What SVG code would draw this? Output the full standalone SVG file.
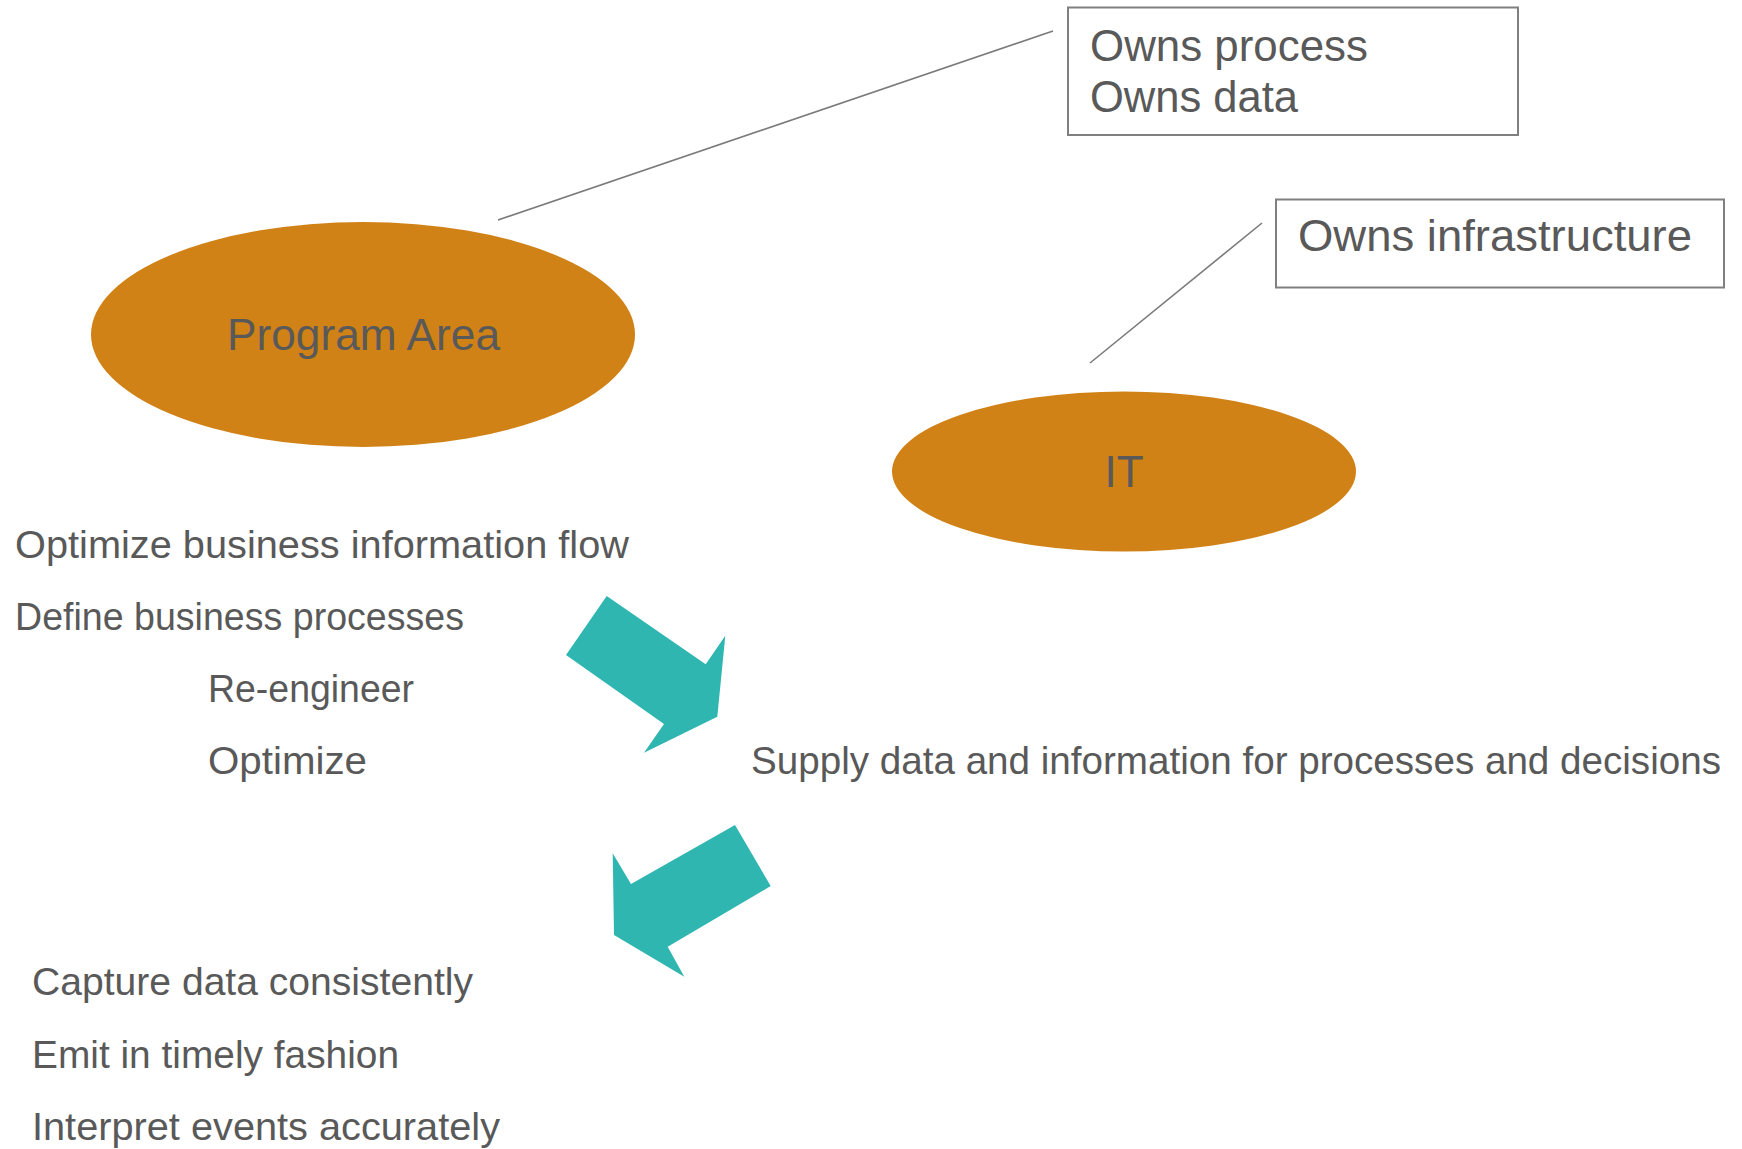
<svg xmlns="http://www.w3.org/2000/svg" width="1742" height="1149" viewBox="0 0 1742 1149">
<style>
  .t { font-family: "Liberation Sans", Arial, sans-serif; fill: #595959; }
  .big { font-size: 44px; }
  .lst { font-size: 39px; }
  .ell { fill: #D08217; }
  .box { fill: #ffffff; stroke: #808080; stroke-width: 2; }
  .con { stroke: #7a7a7a; stroke-width: 1.6; fill: none; }
  .arr { fill: #2FB6B1; }
</style>
<rect width="1742" height="1149" fill="#ffffff"/>
<g id="connectors">
  <line class="con" x1="498" y1="220" x2="1053" y2="31"/>
  <line class="con" x1="1090" y1="363" x2="1262" y2="223"/>
</g>
<g id="program-area">
  <ellipse class="ell" cx="363" cy="334.5" rx="272" ry="112.5"/>
  <text class="t big" x="227" y="350" textLength="273" lengthAdjust="spacingAndGlyphs">Program Area</text>
</g>
<g id="it">
  <ellipse class="ell" cx="1124" cy="471.5" rx="232" ry="80"/>
  <text class="t big" x="1124" y="487" text-anchor="middle">IT</text>
</g>
<g id="owns-process-box">
  <rect class="box" x="1068" y="7.5" width="450" height="127.5"/>
  <text class="t big" x="1090" y="61" textLength="278" lengthAdjust="spacingAndGlyphs">Owns process</text>
  <text class="t big" x="1090" y="112" textLength="208" lengthAdjust="spacingAndGlyphs">Owns data</text>
</g>
<g id="owns-infrastructure-box">
  <rect class="box" x="1276" y="199.5" width="448" height="88"/>
  <text class="t big" x="1298" y="251" textLength="394" lengthAdjust="spacingAndGlyphs">Owns infrastructure</text>
</g>
<g id="program-list">
  <text class="t lst" x="15" y="558" textLength="614" lengthAdjust="spacingAndGlyphs">Optimize business information flow</text>
  <text class="t lst" x="15" y="630" textLength="449" lengthAdjust="spacingAndGlyphs">Define business processes</text>
  <text class="t lst" x="208" y="702" textLength="206" lengthAdjust="spacingAndGlyphs">Re-engineer</text>
  <text class="t lst" x="208" y="774" textLength="159" lengthAdjust="spacingAndGlyphs">Optimize</text>
</g>
<g id="supply-text">
  <text class="t lst" x="751" y="774" textLength="970" lengthAdjust="spacingAndGlyphs">Supply data and information for processes and decisions</text>
</g>
<g id="arrow-1">
  <polygon class="arr" points="606.7,596 705.7,664.3 725.3,635.7 717.3,716.7 644,752.7 664,724 566,655"/>
</g>
<g id="arrow-2">
  <polygon class="arr" points="735,825 770.7,886 667.7,946.7 684.3,976.7 614,935 612.7,853.3 631,884"/>
</g>
<g id="capture-list">
  <text class="t lst" x="32" y="995" textLength="441" lengthAdjust="spacingAndGlyphs">Capture data consistently</text>
  <text class="t lst" x="32" y="1068" textLength="367" lengthAdjust="spacingAndGlyphs">Emit in timely fashion</text>
  <text class="t lst" x="32" y="1140" textLength="468" lengthAdjust="spacingAndGlyphs">Interpret events accurately</text>
</g>
</svg>
